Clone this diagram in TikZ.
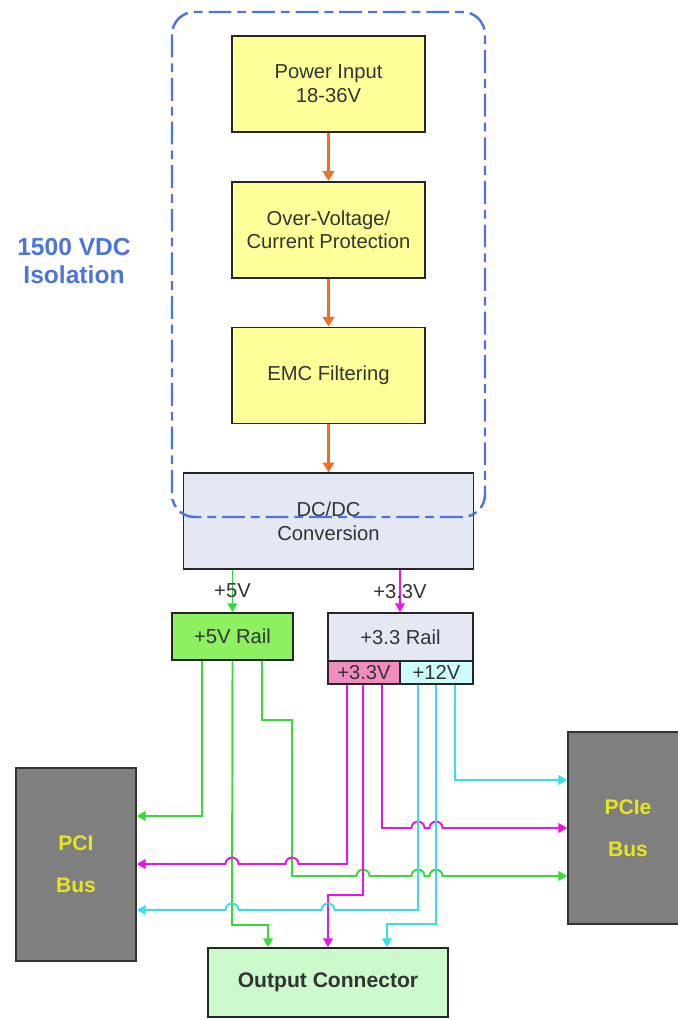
\documentclass[tikz,border=0pt]{standalone}
\usepackage{fontspec}
\setmainfont{Liberation Sans}
\usetikzlibrary{arrows.meta,positioning}

\definecolor{boxyellow}{HTML}{FFFF99}
\definecolor{boxlilac}{HTML}{E4E8F4}
\definecolor{railgreen}{HTML}{8CF060}
\definecolor{railpink}{HTML}{F08CBE}
\definecolor{railcyan}{HTML}{CCFCFC}
\definecolor{outgreen}{HTML}{CCFACC}
\definecolor{busgray}{HTML}{7F7F7F}
\definecolor{bustext}{HTML}{E6E620}
\definecolor{isoblue}{HTML}{4C74DC}
\definecolor{wiregreen}{HTML}{33DD33}
\definecolor{wiremag}{HTML}{EE11EE}
\definecolor{wirecyan}{HTML}{33E0EE}
\definecolor{flow}{HTML}{F07020}

% hop of a horizontal wire at y=#2 over a vertical one at x=#1
\newcommand\hopl[2]{-- ({#1+6.5},#2) arc[start angle=0,end angle=180,radius=0.13cm]}
\newcommand\hopr[2]{-- ({#1-6.5},#2) arc[start angle=180,end angle=0,radius=0.13cm]}

\begin{document}
\begin{tikzpicture}[
    x=0.02cm, y=0.02cm,
    node distance=0.96cm,
    block/.style={draw=black!85, line width=1pt, fill=boxyellow,
      minimum width=3.86cm, minimum height=1.92cm, align=center,
      text=black!80, font=\fontsize{11.5}{13.5}\selectfont},
    rail/.style={block, minimum height=0.94cm},
    tab/.style={block, minimum height=0.46cm, inner sep=0pt},
    bus/.style={draw=black!80, line width=1pt, fill=busgray,
      minimum width=2.4cm, minimum height=3.86cm, align=center,
      text=bustext, font=\fontsize{12}{24}\bfseries},
    flowarrow/.style={draw=flow, line width=1.5pt,
      -{Triangle[length=5.5pt,width=6.5pt]}},
    wire/.style={line width=1.1pt, -{Triangle[length=5pt,width=5.5pt]}},
    gwire/.style={wire, draw=wiregreen},
    mwire/.style={wire, draw=wiremag},
    cwire/.style={wire, draw=wirecyan}
  ]
    \useasboundingbox (0,0) rectangle (678,-1020);

    \node[block] (input) at (328.5,-84) {Power Input\\18-36V};
    \node[block, below=of input] (protect) {Over-Voltage/\\Current Protection};
    \node[block, below=of protect] (emc) {EMC Filtering};
    \node[block, fill=boxlilac, minimum width=5.8cm, below=of emc] (dcdc) {DC/DC\\Conversion};

    \node[rail, fill=railgreen, minimum width=2.42cm] (rail5) at (232.5,-636.5) {+5V Rail};
    \node[rail, fill=boxlilac, minimum width=2.9cm, minimum height=0.96cm] (rail33) at (400.5,-637) {+3.3 Rail};
    \node[tab, fill=railpink, minimum width=1.44cm] (tab33) at (364,-672.5) {+3.3V};
    \node[tab, fill=railcyan, minimum width=1.46cm] (tab12) at (436.5,-672.5) {+12V};

    \node[bus] (pci) at (76,-864.5) {PCI\\Bus};
    \node[bus, minimum height=3.84cm] (pcie) at (628,-828) {PCIe\\Bus};
    \node[block, fill=outgreen, minimum width=4.8cm, minimum height=1.38cm,
      font=\fontsize{12}{14}\bfseries] (outc) at (328,-982.5) {Output Connector};

    \node[text=isoblue, align=center, font=\fontsize{14}{16}\bfseries] (iso) at (74,-261) {1500 VDC\\Isolation};

    \draw[flowarrow] (input) -- (protect);
    \draw[flowarrow] (protect) -- (emc);
    \draw[flowarrow] (emc) -- (dcdc);

    \draw[isoblue, line width=1.4pt, rounded corners=0.45cm,
      dash pattern=on 13pt off 3.4pt on 5pt off 3.4pt] (172,-12) rectangle (485,-517);

    % rails out of the converter
    \draw[gwire] (dcdc.south -| rail5) -- node[font=\fontsize{11.5}{13.5}\selectfont, text=black!80] {+5V} (rail5);
    \draw[mwire] (dcdc.south -| 400,0) -- node[font=\fontsize{11.5}{13.5}\selectfont, text=black!80] {+3.3V} (rail33.north -| 400,0);

    % +5V
    \draw[gwire] (rail5.south -| 202,0) |- (pci.east |- 0,-816);
    \draw[gwire] (rail5.south) -- (232,-925) -| (outc.north -| 268,0);
    \draw[gwire] (rail5.south -| 262,0) |- (292,-720) -- (292,-876)
      \hopr{363}{-876} \hopr{418}{-876} \hopr{436}{-876} -- (pcie.west |- 0,-876);

    % +3.3V
    \draw[mwire] (tab33.south -| 347,0) -- (347,-864)
      \hopl{292}{-864} \hopl{232}{-864} -- (pci.east |- 0,-864);
    \draw[mwire] (tab33.south -| 363,0) |- (328,-895) -- (outc.north);
    \draw[mwire] (tab33.south -| 382,0) -- (382,-828)
      \hopr{418}{-828} \hopr{436}{-828} -- (pcie.west |- 0,-828);

    % +12V
    \draw[cwire] (tab12.south -| 418,0) -- (418,-910)
      \hopl{328}{-910} \hopl{232}{-910} -- (pci.east |- 0,-910);
    \draw[cwire] (tab12.south -| 436,0) |- (387,-924) -- (outc.north -| 387,0);
    \draw[cwire] (tab12.south -| 455,0) |- (pcie.west |- 0,-780);
\end{tikzpicture}
\end{document}
